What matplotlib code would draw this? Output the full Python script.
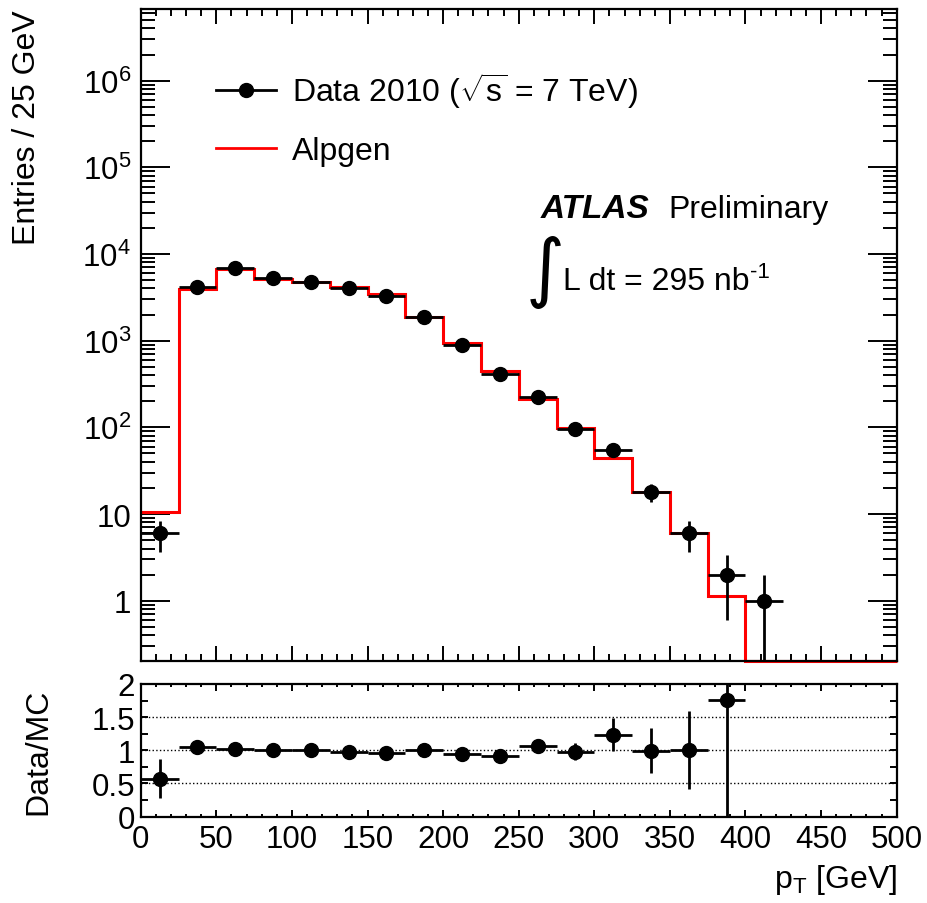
import numpy as np
import matplotlib
matplotlib.use('Agg')
import matplotlib.pyplot as plt
from matplotlib.lines import Line2D
from matplotlib.ticker import MultipleLocator, LogLocator, NullFormatter, FixedLocator

plt.rcParams['font.family'] = ['Liberation Sans', 'DejaVu Sans']
plt.rcParams['mathtext.fontset'] = 'custom'
plt.rcParams['mathtext.rm'] = 'Liberation Sans'
plt.rcParams['mathtext.it'] = 'Liberation Sans:italic'
plt.rcParams['mathtext.bf'] = 'Liberation Sans:bold'

# binning (25 GeV bins)
bin_edges = [0, 25, 50, 75, 100, 125, 150, 175, 200, 225, 250,
             275, 300, 325, 350, 375, 400, 425, 450, 475, 500]

# data 2010, first 17 bins (0-425 GeV)
data_counts = [6, 4110, 6930, 5220, 4690, 4080, 3300, 1865, 887, 407,
               225, 96, 55, 18, 6, 2, 1]
data_err = [2.4, 64, 83, 72, 68, 64, 57, 43, 30, 20,
            15, 9.8, 7.4, 4.2, 2.4, 1.4, 1.0]

# alpgen prediction, all 20 bins
mc_counts = [10.5, 3930, 6790, 5190, 4690, 4200, 3455, 1865, 934, 442,
             211, 98, 44.5, 18.1, 5.97, 1.14, 0, 0, 0, 0]

# data / MC ratio, first 16 bins (0-400 GeV)
ratio = [0.575, 1.045, 1.02, 1.005, 1.0, 0.97, 0.955, 1.0, 0.95, 0.92,
         1.065, 0.98, 1.235, 0.995, 1.005, 1.755]
ratio_err = [0.295, 0.02, 0.015, 0.015, 0.015, 0.016, 0.018, 0.025, 0.035, 0.05,
             0.07, 0.13, 0.245, 0.34, 0.59, 1.76]

edges = np.array(bin_edges, dtype=float)
centers = 0.5 * (edges[:-1] + edges[1:])
half_w = 0.5 * np.diff(edges)

n_data = len(data_counts)
n_ratio = len(ratio)

ylow, yhigh = 0.2, 6.7e6
fs_tick = 22.5
fs_text = 23

fig = plt.figure(figsize=(9.27, 9.04), dpi=100)
ax1 = fig.add_axes([0.1518, 0.2674, 0.8155, 0.7215])
ax2 = fig.add_axes([0.1518, 0.0955, 0.8155, 0.1468])

# ---- main panel ----
mc = np.array(mc_counts, dtype=float)
mc_draw = np.where(mc > 0, mc, ylow)
ax1.stairs(mc_draw, edges, baseline=None, color='red', linewidth=2.2,
           clip_on=False, zorder=2)

ax1.errorbar(centers[:n_data], data_counts, yerr=data_err, xerr=half_w[:n_data],
             fmt='o', color='black', markersize=10, elinewidth=2.0,
             capsize=0, zorder=3)

ax1.set_yscale('log')
ax1.set_xlim(0, 500)
ax1.set_ylim(ylow, yhigh)

dec = [1, 10, 1e2, 1e3, 1e4, 1e5, 1e6]
ax1.yaxis.set_major_locator(FixedLocator(dec))
ax1.set_yticklabels(['1', '10', r'$\mathregular{10^{2}}$', r'$\mathregular{10^{3}}$',
                     r'$\mathregular{10^{4}}$', r'$\mathregular{10^{5}}$',
                     r'$\mathregular{10^{6}}$'])
ax1.yaxis.set_minor_locator(LogLocator(base=10, subs=np.arange(2, 10), numticks=20))
ax1.yaxis.set_minor_formatter(NullFormatter())
ax1.xaxis.set_major_locator(MultipleLocator(50))
ax1.xaxis.set_minor_locator(MultipleLocator(10))
ax1.tick_params(axis='both', which='both', direction='in', top=True, right=True,
                width=1.4, labelsize=fs_tick)
ax1.tick_params(axis='x', which='major', length=10.8, labelbottom=False)
ax1.tick_params(axis='x', which='minor', length=5)
ax1.tick_params(axis='y', which='major', length=21, pad=7)
ax1.tick_params(axis='y', which='minor', length=10)
for s in ax1.spines.values():
    s.set_linewidth(1.6)

ax1.set_ylabel('Entries / 25 GeV', fontsize=fs_text, loc='top')
ax1.yaxis.set_label_coords(-0.13, 1.0)

handles = [Line2D([], [], color='black', marker='o', markersize=10, linewidth=2.0),
           Line2D([], [], color='red', linewidth=2.0)]
labels = [r'Data 2010 ($\sqrt{\mathregular{s}}$ = 7 TeV)', 'Alpgen']
ax1.legend(handles, labels, loc='upper left', bbox_to_anchor=(0.061, 0.95),
           frameon=False, fontsize=fs_text, handlelength=1.9, handletextpad=0.5,
           labelspacing=0.8)

ax1.text(0.5295, 0.6811, 'ATLAS', transform=ax1.transAxes, fontsize=24,
         fontweight='bold', fontstyle='italic', va='baseline')
ax1.text(0.6977, 0.6811, 'Preliminary', transform=ax1.transAxes, fontsize=fs_text,
         va='baseline')
ax1.text(0.5350, 0.597, '\u222b', transform=ax1.transAxes, fontsize=54,
         family='DejaVu Sans', ha='center', va='center')
lumi = ax1.text(0.558, 0.5708, 'L dt = 295 nb', transform=ax1.transAxes,
                fontsize=fs_text, va='baseline')
ax1.annotate('-1', xy=(1, 1), xycoords=lumi, xytext=(0.5, 3.5),
             textcoords='offset points', fontsize=16, ha='left', va='top')

# ---- ratio panel ----
for yv in [0.5, 1.0, 1.5]:
    ax2.axhline(yv, color='black', linestyle=':', linewidth=1.0, zorder=1)

ax2.errorbar(centers[:n_ratio], ratio, yerr=ratio_err, xerr=half_w[:n_ratio],
             fmt='o', color='black', markersize=10, elinewidth=2.0,
             capsize=0, zorder=3)

ax2.set_xlim(0, 500)
ax2.set_ylim(0, 2)
ax2.xaxis.set_major_locator(MultipleLocator(50))
ax2.xaxis.set_minor_locator(MultipleLocator(10))
ax2.yaxis.set_major_locator(MultipleLocator(0.5))
ax2.yaxis.set_minor_locator(MultipleLocator(0.25))
ax2.yaxis.set_major_formatter(plt.FuncFormatter(lambda v, p: '%g' % v))
ax2.tick_params(axis='both', which='both', direction='in', top=True, right=True,
                width=1.4, labelsize=fs_tick)
ax2.tick_params(axis='x', which='major', length=5, pad=5)
ax2.tick_params(axis='x', which='minor', length=2.5)
ax2.tick_params(axis='y', which='major', length=5, pad=4)
ax2.tick_params(axis='y', which='minor', length=5)
for s in ax2.spines.values():
    s.set_linewidth(1.6)

ax2.set_ylabel('Data/MC', fontsize=fs_text)
ax2.yaxis.set_label_coords(-0.116, 0.5)
ax2.set_xlabel(r'p$_{\mathregular{T}}$ [GeV]', fontsize=fs_text, loc='right')
ax2.xaxis.set_label_coords(1.0, -0.34)
ax2.xaxis.label.set_va('top')

fig.savefig('out.png', dpi=100)
